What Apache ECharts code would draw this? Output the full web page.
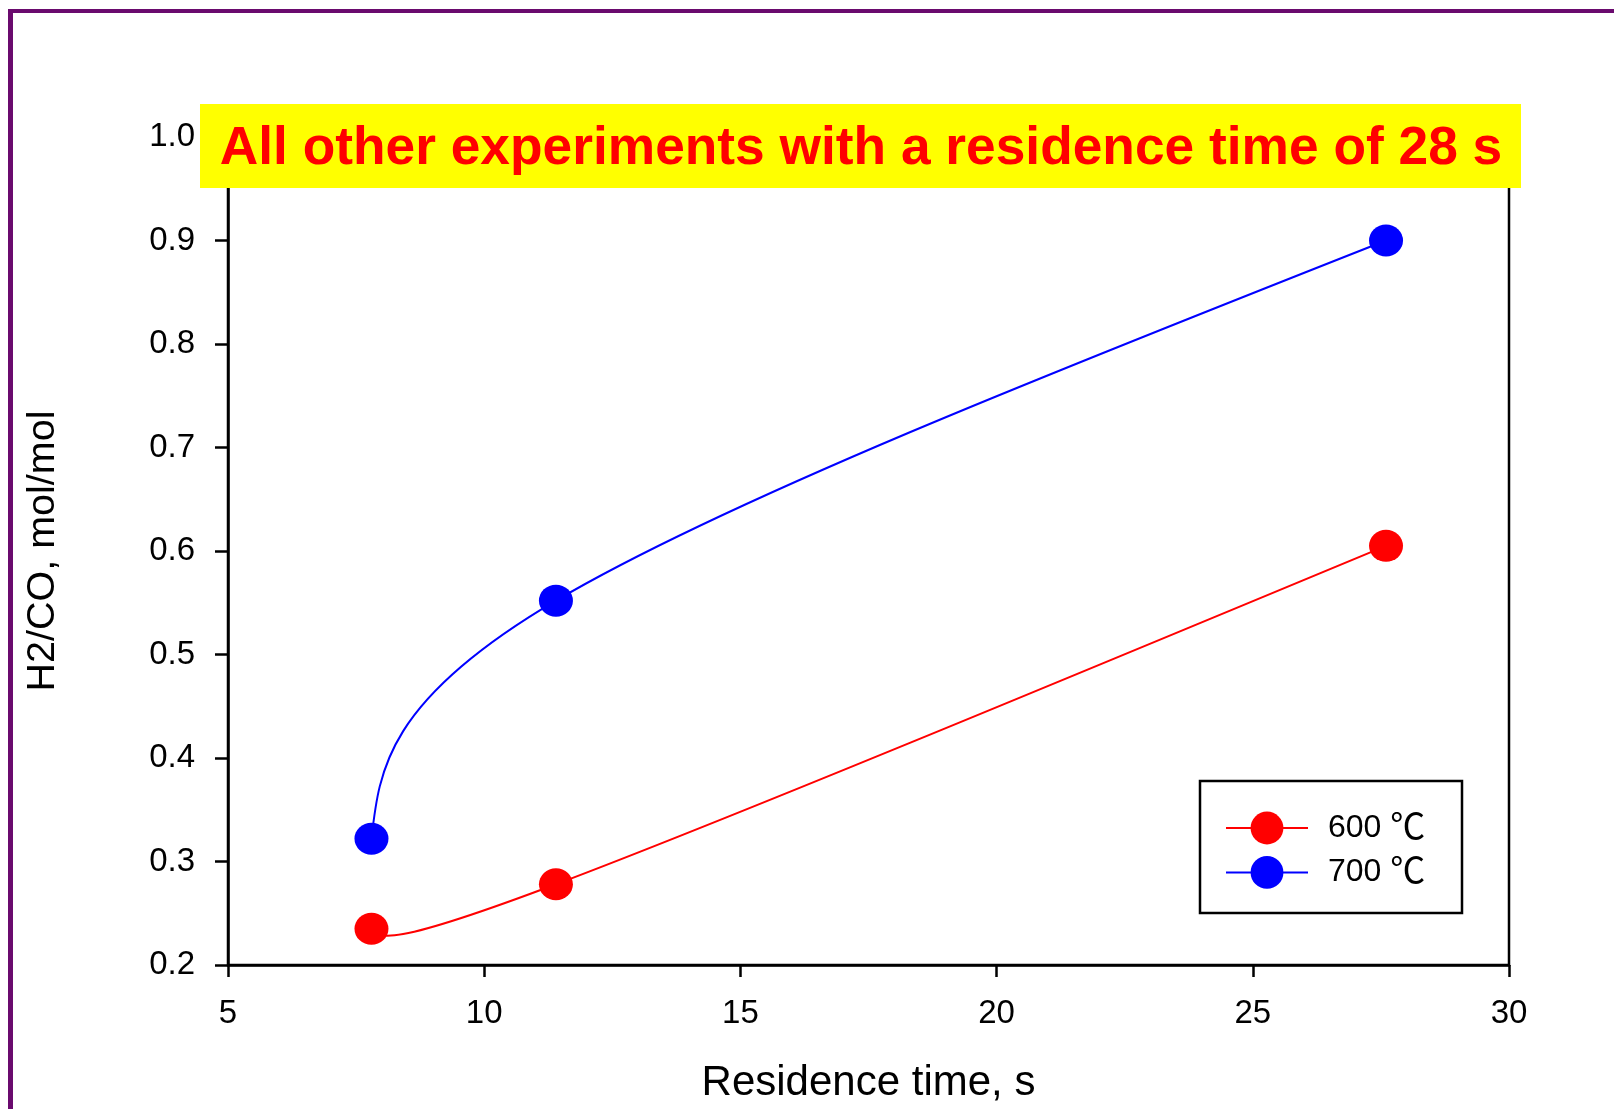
<!DOCTYPE html>
<html>
<head>
<meta charset="utf-8">
<title>H2/CO vs residence time</title>
<script src="https://cdn.jsdelivr.net/npm/echarts@6/dist/echarts.min.js"></script>
<style>
  html, body { margin: 0; padding: 0; background: #ffffff; }
  #chart { width: 1614px; height: 1109px; }
</style>
</head>
<body>
<div id="chart"></div>
<script>
// Residence time (s) of each run
const residenceTimes = [7.8, 11.4, 27.6];
// H2/CO molar ratio at each residence time
const ratio600 = [0.235, 0.278, 0.605];
const ratio700 = [0.322, 0.552, 0.900];
const seriesNames = ['600 \u2103', '700 \u2103'];
const seriesColors = ['#ff0000', '#0000ff'];
const titleText = 'All other experiments with a residence time of 28 s';
const xAxisTitle = 'Residence time, s';
const yAxisTitle = 'H2/CO, mol/mol';

const FONT = '"Liberation Sans", Arial, "Noto Sans CJK KR", sans-serif';
const CJK_FONT = '"Noto Sans CJK KR", "Noto Sans CJK SC", sans-serif';

function pairs(xs, ys) {
  return xs.map((x, i) => [x, ys[i]]);
}

// Natural cubic spline through screen points, uniform parameter,
// returned as one cubic Bezier segment per interval.
function splineSegments(pts) {
  const n = pts.length;
  if (n < 2) return [];
  const d = [];
  for (let i = 0; i < n - 1; i++) {
    d.push([pts[i + 1][0] - pts[i][0], pts[i + 1][1] - pts[i][1]]);
  }
  // second derivatives M (M0 = Mn-1 = 0), solved per coordinate
  const M = [];
  for (let c = 0; c < 2; c++) {
    const m = new Array(n).fill(0);
    const k = n - 2;
    if (k > 0) {
      const a = new Array(k).fill(1), b = new Array(k).fill(4), cc = new Array(k).fill(1);
      const r = [];
      for (let i = 0; i < k; i++) r.push(6 * (d[i + 1][c] - d[i][c]));
      for (let i = 1; i < k; i++) {
        const w = a[i] / b[i - 1];
        b[i] -= w * cc[i - 1];
        r[i] -= w * r[i - 1];
      }
      const sol = new Array(k);
      sol[k - 1] = r[k - 1] / b[k - 1];
      for (let i = k - 2; i >= 0; i--) sol[i] = (r[i] - cc[i] * sol[i + 1]) / b[i];
      for (let i = 0; i < k; i++) m[i + 1] = sol[i];
    }
    M.push(m);
  }
  const segs = [];
  for (let i = 0; i < n - 1; i++) {
    const t0 = [], t1 = [];
    for (let c = 0; c < 2; c++) {
      t0.push(d[i][c] - (2 * M[c][i] + M[c][i + 1]) / 6);
      t1.push(d[i][c] + (M[c][i] + 2 * M[c][i + 1]) / 6);
    }
    segs.push({
      x1: pts[i][0], y1: pts[i][1],
      x2: pts[i + 1][0], y2: pts[i + 1][1],
      cpx1: pts[i][0] + t0[0] / 3, cpy1: pts[i][1] + t0[1] / 3,
      cpx2: pts[i + 1][0] - t1[0] / 3, cpy2: pts[i + 1][1] - t1[1] / 3
    });
  }
  return segs;
}

// marker series (also carries the legend entry)
function markerSeries(name, values, color) {
  return {
    name: name,
    type: 'line',
    data: pairs(residenceTimes, values),
    symbol: 'circle',
    symbolSize: [34, 32],
    showSymbol: true,
    itemStyle: { color: color },
    lineStyle: { color: color, width: 2, opacity: 0 },
    emphasis: { disabled: true },
    z: 4
  };
}

// smooth curve through the same points
function curveSeries(name, values, color) {
  const data = pairs(residenceTimes, values);
  return {
    name: name,
    type: 'custom',
    data: data,
    z: 3,
    silent: true,
    renderItem: function (params, api) {
      if (params.dataIndex !== 0) return null;
      const pts = data.map(p => api.coord(p));
      return {
        type: 'group',
        children: splineSegments(pts).map(s => ({
          type: 'bezierCurve',
          shape: s,
          style: { stroke: color, lineWidth: 2, fill: null }
        }))
      };
    }
  };
}

const chart = echarts.init(document.getElementById('chart'), null, { renderer: 'canvas' });

const axisLineStyle = { color: '#000', width: 2.5 };

chart.setOption({
  backgroundColor: '#ffffff',
  animation: false,
  textStyle: { fontFamily: FONT },
  grid: {
    left: 228, right: 105, top: 137, bottom: 144,
    show: true, borderColor: '#000', borderWidth: 2.5, backgroundColor: 'transparent'
  },
  legend: {
    orient: 'vertical',
    left: 1225, top: 808,
    padding: 0,
    itemWidth: 82, itemHeight: 41, itemGap: 8,
    lineStyle: { width: 2, opacity: 1 },
    formatter: name => name.replace('\u2103', '{u|\u2103}'),
    textStyle: {
      fontSize: 32, color: '#000', fontFamily: FONT, padding: [0, 0, 0, 15],
      rich: { u: { fontSize: 35, color: '#000', fontFamily: CJK_FONT, padding: [0, 0, 5, 0] } }
    },
    data: seriesNames
  },
  xAxis: {
    type: 'value',
    min: 5, max: 30, interval: 5,
    name: xAxisTitle,
    nameLocation: 'middle',
    nameGap: 97,
    nameTextStyle: { fontSize: 42, color: '#000', fontFamily: FONT },
    axisLine: { show: true, onZero: false, lineStyle: axisLineStyle },
    axisTick: { show: true, inside: false, length: 12, lineStyle: { color: '#000', width: 2.5 } },
    axisLabel: { fontSize: 33, color: '#000', margin: 32, fontFamily: FONT },
    splitLine: { show: false }
  },
  yAxis: {
    type: 'value',
    min: 0.2, max: 1.0, interval: 0.1,
    name: yAxisTitle,
    nameLocation: 'middle',
    nameGap: 165,
    nameTextStyle: { fontSize: 39.5, color: '#000', fontFamily: FONT },
    axisLine: { show: true, onZero: false, lineStyle: axisLineStyle },
    axisTick: { show: true, inside: false, length: 13, lineStyle: { color: '#000', width: 2.5 } },
    axisLabel: {
      fontSize: 33, color: '#000', margin: 33, fontFamily: FONT,
      formatter: v => v.toFixed(1)
    },
    splitLine: { show: false }
  },
  graphic: [
    // page frame
    { type: 'rect', z: 200, shape: { x: 8, y: 9, width: 5, height: 1100 }, style: { fill: '#6a0a6e' } },
    { type: 'rect', z: 200, shape: { x: 8, y: 9, width: 1606, height: 4 }, style: { fill: '#6a0a6e' } },
    // highlighted note above the plot
    { type: 'rect', z: 100, shape: { x: 200, y: 104, width: 1321, height: 84 }, style: { fill: '#ffff00' } },
    {
      type: 'text', z: 101, x: 861, y: 149,
      style: {
        text: titleText, fill: '#ff0000',
        font: 'bold 53.3px ' + FONT,
        align: 'center', verticalAlign: 'middle'
      }
    },
    // legend frame
    {
      type: 'rect', z: 1, shape: { x: 1200, y: 781, width: 262, height: 132 },
      style: { fill: 'transparent', stroke: '#000', lineWidth: 2.5 }
    }
  ],
  series: [
    markerSeries(seriesNames[0], ratio600, seriesColors[0]),
    markerSeries(seriesNames[1], ratio700, seriesColors[1]),
    curveSeries(seriesNames[0], ratio600, seriesColors[0]),
    curveSeries(seriesNames[1], ratio700, seriesColors[1])
  ]
});
</script>
</body>
</html>
